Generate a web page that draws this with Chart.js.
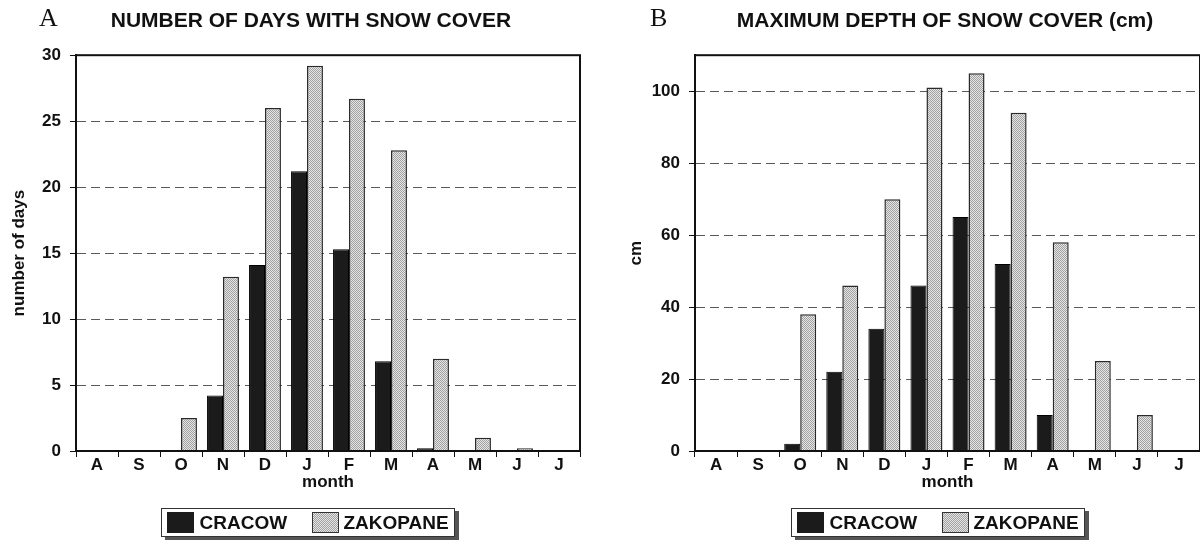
<!DOCTYPE html>
<html><head><meta charset="utf-8">
<script src="https://cdn.jsdelivr.net/npm/chart.js@4.4.1/dist/chart.umd.min.js"></script>
<style>
html,body{margin:0;padding:0;overflow:hidden;width:1200px;height:541px;background:#fff;}
#wrap{position:relative;width:1200px;height:541px;overflow:hidden;}
canvas{position:absolute;top:0;}
.panel{position:absolute;top:5px;font-family:"Liberation Serif","Times New Roman",serif;font-size:26px;line-height:26px;color:#111;}
.legend{position:absolute;top:508px;width:292px;height:27px;border:1.5px solid #333;box-shadow:4px 3px 0 #555;background:#fff;font-family:"Liberation Sans",Arial,sans-serif;font-weight:bold;font-size:19px;color:#111;}
.sw{position:absolute;top:3px;width:27px;height:21px;box-sizing:border-box;}
.sw.c{background:#1b1b1b;}
.sw.z{border:1px solid #333;background-color:#c8c8c8;background-image:repeating-conic-gradient(#a0a0a0 0 25%, #e6e6e6 0 50%);background-size:2px 2px;}
.lt{position:absolute;top:0;line-height:27px;}
</style></head>
<body>
<div id="wrap">
  <canvas id="cA" width="622" height="541" style="left:0px;width:622px;height:541px"></canvas>
  <canvas id="cB" width="690" height="541" style="left:600px;width:690px;height:541px"></canvas>
  <div class="panel" style="left:39px">A</div>
  <div class="panel" style="left:650px">B</div>
  <div class="legend" style="left:161px">
    <div class="sw c" style="left:4.5px"></div><div class="lt" style="left:37.5px">CRACOW</div>
    <div class="sw z" style="left:149.5px"></div><div class="lt" style="left:181.5px">ZAKOPANE</div>
  </div>
  <div class="legend" style="left:791px">
    <div class="sw c" style="left:4.5px"></div><div class="lt" style="left:37.5px">CRACOW</div>
    <div class="sw z" style="left:149.5px"></div><div class="lt" style="left:181.5px">ZAKOPANE</div>
  </div>
</div>
<script>
// ---- data ----
const months = ['A','S','O','N','D','J','F','M','A','M','J','J'];
const seriesNames = ['CRACOW','ZAKOPANE'];
const cracowDays   = [0, 0, 0,   4.2, 14.1, 21.2, 15.3, 6.8, 0.2, 0,   0,   0];
const zakopaneDays = [0, 0, 2.5, 13.2, 26.0, 29.2, 26.7, 22.8, 7.0, 1.0, 0.2, 0];
const cracowDepth   = [0, 0, 2,  22, 34, 46,  65,  52, 10, 0,  0,  0];
const zakopaneDepth = [0, 0, 38, 46, 70, 101, 105, 94, 58, 25, 10, 0];
const daysTickValues  = [0, 5, 10, 15, 20, 25, 30];
const depthTickValues = [0, 20, 40, 60, 80, 100];

const FONT = '"Liberation Sans", Arial, sans-serif';
const INK = '#111';

function stipple(){
  const c = document.createElement('canvas');
  c.width = 2; c.height = 2;
  const g = c.getContext('2d');
  g.fillStyle = '#e6e6e6'; g.fillRect(0,0,2,2);
  g.fillStyle = '#a0a0a0'; g.fillRect(0,0,1,1); g.fillRect(1,1,1,1);
  return g.createPattern(c, 'repeat');
}
const zakFill = stipple();

const framePlugin = {
  id: 'frame',
  afterDatasetsDraw(chart){
    const a = chart.chartArea, ctx = chart.ctx;
    ctx.save();
    ctx.strokeStyle = INK;
    ctx.lineWidth = 2;
    ctx.strokeRect(a.left, a.top, a.right - a.left, a.bottom - a.top);
    ctx.restore();
  }
};
// centre the chart title over the whole canvas (not only the padded box)
const titleSpanPlugin = {
  id: 'titleSpan',
  afterLayout(chart){
    const t = chart.titleBlock;
    if (t) { t.left = 0; t.right = chart.width; }
  }
};

function makeChart(id, cfg){
  const tickSet = cfg.tickValues;
  const yMax = cfg.max;
  return new Chart(document.getElementById(id), {
    type: 'bar',
    data: {
      labels: months,
      datasets: [
        {label: seriesNames[0], data: cfg.a, backgroundColor: '#1b1b1b', borderColor: '#000', borderWidth: 1,
         categoryPercentage: 0.76, barPercentage: 1.0},
        {label: seriesNames[1], data: cfg.b, backgroundColor: zakFill, borderColor: '#2a2a2a', borderWidth: 1.5,
         categoryPercentage: 0.76, barPercentage: 1.0}
      ]
    },
    options: {
      responsive: false,
      animation: false,
      devicePixelRatio: 1,
      layout: {padding: {left: 0, right: cfg.padRight, top: 0, bottom: 0}},
      plugins: {
        legend: {display: false},
        tooltip: {enabled: false},
        title: {display: true, text: cfg.title, color: INK,
                font: {family: FONT, size: 21, weight: 'bold', lineHeight: 1.2},
                padding: {top: 9, bottom: 21}}
      },
      scales: {
        x: {
          grid: {offset: true, drawOnChartArea: false, drawTicks: true, tickLength: 6, tickColor: INK, tickWidth: 1, tickBorderDash: []},
          border: {display: true, color: INK, width: 2},
          ticks: {color: INK, font: {family: FONT, size: 17, weight: 'bold', lineHeight: 1}, padding: 0, autoSkip: false, maxRotation: 0},
          title: {display: true, text: 'month', color: INK, font: {family: FONT, size: 17, weight: 'bold', lineHeight: 1.2}, padding: {top: 0, bottom: 48}},
          afterFit(s){ s.height = 90; }
        },
        y: {
          min: 0, max: yMax,
          afterBuildTicks(s){ s.ticks = tickSet.map(v => ({value: v})); },
          grid: {
            color: c => (c.tick && c.tick.value > 0 && c.tick.value < yMax) ? '#5a5a5a' : 'rgba(0,0,0,0)',
            lineWidth: 1, drawTicks: true, tickLength: 6, tickColor: INK, tickWidth: 1, tickBorderDash: []
          },
          border: {display: true, color: INK, width: 2, dash: [9, 5]},
          ticks: {color: INK, font: {family: FONT, size: 17, weight: 'bold'}, padding: cfg.tickPad},
          title: {display: true, text: cfg.yTitle, color: INK, font: {family: FONT, size: 17, weight: 'bold', lineHeight: 1.2}, padding: {top: cfg.yTitlePad, bottom: 0}},
          afterFit(s){ s.width = cfg.yWidth; }
        }
      }
    },
    plugins: [framePlugin, titleSpanPlugin]
  });
}

// A: page x — plot 76..580, title centred at ~311, y-title centred at ~19
makeChart('cA', {a: cracowDays, b: zakopaneDays, max: 30, tickValues: daysTickValues,
  title: 'NUMBER OF DAYS WITH SNOW COVER', yTitle: 'number of days',
  yWidth: 76, padRight: 42, tickPad: 9, yTitlePad: 8.8});
// B: page x — plot 695..1200, title centred at ~945, y-title centred at ~636
makeChart('cB', {a: cracowDepth, b: zakopaneDepth, max: 110, tickValues: depthTickValues,
  title: 'MAXIMUM DEPTH OF SNOW COVER (cm)', yTitle: 'cm',
  yWidth: 95, padRight: 90, tickPad: 9, yTitlePad: 25.8});
</script>
</body></html>
